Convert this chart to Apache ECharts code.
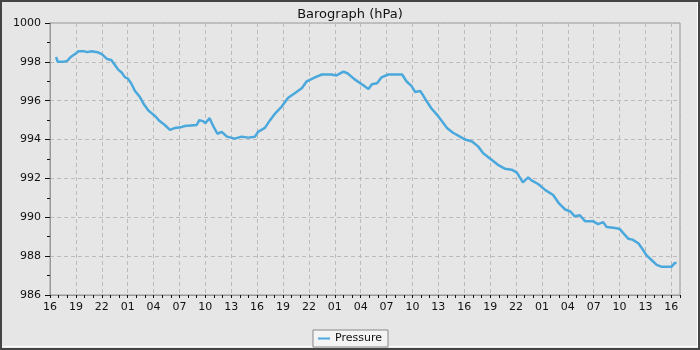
<!DOCTYPE html>
<html>
<head>
<meta charset="utf-8">
<script src="https://cdn.jsdelivr.net/npm/echarts@6/dist/echarts.min.js"></script>
<style>
html,body{margin:0;padding:0;background:#e6e6e6;}
#c{width:700px;height:350px;}
</style>
</head>
<body>
<div id="c"></div>
<script>
// hours since the first 16:00 mark
var hours = [0.7,0.9,1.5,2.0,2.4,2.9,3.3,3.9,4.3,4.8,5.5,6.0,6.6,7.1,7.5,7.9,8.3,8.7,9.0,9.4,9.85,10.4,10.9,11.4,11.8,12.2,12.7,13.3,13.9,14.5,15.3,15.6,17.0,17.3,17.7,18.0,18.5,18.9,19.4,19.9,20.5,21.4,22.2,23.0,23.75,24.1,24.9,25.5,26.1,26.85,27.6,28.4,29.2,29.75,30.7,31.5,32.6,33.2,34.0,34.5,35.3,36.3,36.9,37.3,37.9,38.4,39.2,40.8,41.3,41.9,42.3,42.9,43.2,43.65,44.2,44.8,45.4,46.0,46.7,47.5,48.1,48.9,49.6,50.2,51.2,51.9,52.7,53.5,54.1,54.8,55.4,55.8,56.6,57.4,58.3,59.0,59.7,60.3,60.8,61.4,62.0,62.9,63.5,64.1,64.5,65.5,66.0,66.4,67.0,67.5,68.2,68.75,69.1,69.7,70.3,70.9,71.5,72.0,72.4,72.6];
var pressure = [998.25,998.0,998.0,998.05,998.25,998.4,998.55,998.55,998.5,998.55,998.5,998.4,998.15,998.1,997.85,997.6,997.45,997.2,997.15,996.9,996.5,996.2,995.8,995.5,995.35,995.2,994.95,994.75,994.5,994.6,994.65,994.7,994.75,995.0,994.95,994.85,995.1,994.7,994.3,994.4,994.15,994.05,994.15,994.1,994.15,994.4,994.6,995.0,995.35,995.7,996.15,996.4,996.65,997.0,997.2,997.35,997.35,997.3,997.5,997.4,997.1,996.8,996.6,996.85,996.9,997.2,997.35,997.35,997.0,996.75,996.45,996.5,996.3,995.97,995.6,995.3,994.95,994.6,994.35,994.15,994.0,993.9,993.65,993.3,992.95,992.7,992.5,992.45,992.3,991.8,992.05,991.9,991.7,991.4,991.15,990.7,990.4,990.3,990.05,990.1,989.8,989.8,989.65,989.75,989.5,989.45,989.4,989.2,988.9,988.85,988.65,988.3,988.05,987.8,987.55,987.45,987.45,987.45,987.65,987.65];
var startHour = 16;
var titleText = 'Barograph (hPa)';
var seriesName = 'Pressure';

var data = hours.map(function(h,i){return [h, pressure[i]];});
var FONT = 'DejaVu Sans';
var chart = echarts.init(document.getElementById('c'), null, {renderer:'canvas'});
chart.setOption({
  backgroundColor:'#e6e6e6',
  animation:false,
  textStyle:{fontFamily:FONT},
  title:{text:titleText,left:'center',top:3,textStyle:{fontFamily:FONT,fontSize:13,fontWeight:'normal',color:'#111'}},
  grid:{left:50,right:20,top:23,bottom:55,show:true,borderColor:'#999',borderWidth:1,backgroundColor:'transparent'},
  legend:{bottom:3,left:'center',data:[{name:seriesName,icon:'rect'}],itemWidth:12,itemHeight:2,
    backgroundColor:'#f4f4f4',borderColor:'#888',borderWidth:1,padding:[3,6,3,5],borderRadius:0,
    textStyle:{fontFamily:FONT,fontSize:11,color:'#111'}},
  xAxis:[{
    type:'value',min:0,max:73,interval:3,
    axisLine:{lineStyle:{color:'#999'}},
    axisTick:{show:true,length:3,lineStyle:{color:'#111'}},
    axisLabel:{margin:7,fontFamily:FONT,fontSize:11,color:'#111',showMaxLabel:false,showMinLabel:true,
      formatter:function(v){var r=Math.round(v); if(r%3!==0||r>72) return ''; var h=(startHour+r)%24;return (h<10?'0':'')+h;}},
    splitLine:{show:true,lineStyle:{color:'#bbb',type:[4,3]}}
  },{
    type:'value',min:0,max:73,interval:1,position:'bottom',
    axisLine:{show:false},axisLabel:{show:false},splitLine:{show:false},
    axisTick:{show:true,length:3,lineStyle:{color:'#111'}}
  }],
  yAxis:{
    type:'value',min:986,max:1000,interval:2,
    axisLine:{show:true,lineStyle:{color:'#999'}},
    axisTick:{show:true,length:5,lineStyle:{color:'#111'}},
    minorTick:{show:true,splitNumber:2,length:3,lineStyle:{color:'#111'}},
    axisLabel:{margin:9,fontFamily:FONT,fontSize:11,color:'#111',formatter:function(v){return String(v);}},
    splitLine:{show:true,lineStyle:{color:'#bbb',type:[4,3]}}
  },
  series:[{
    name:seriesName,type:'line',data:data,symbol:'none',
    lineStyle:{color:'#4aa8dc',width:2.5},itemStyle:{color:'#4aa8dc'}
  }],
  graphic:[
    {type:'rect',shape:{x:1,y:1,width:698,height:348},style:{fill:null,stroke:'#444',lineWidth:2},silent:true},
    {type:'line',shape:{x1:697.5,y1:2,x2:697.5,y2:347},style:{stroke:'#fff',lineWidth:1},silent:true},
    {type:'line',shape:{x1:2,y1:346.5,x2:697,y2:346.5},style:{stroke:'#fff',lineWidth:1},silent:true},
    {type:'line',shape:{x1:0,y1:349,x2:700,y2:349},style:{stroke:'#444',lineWidth:2},silent:true}
  ]
});
</script>
</body>
</html>
